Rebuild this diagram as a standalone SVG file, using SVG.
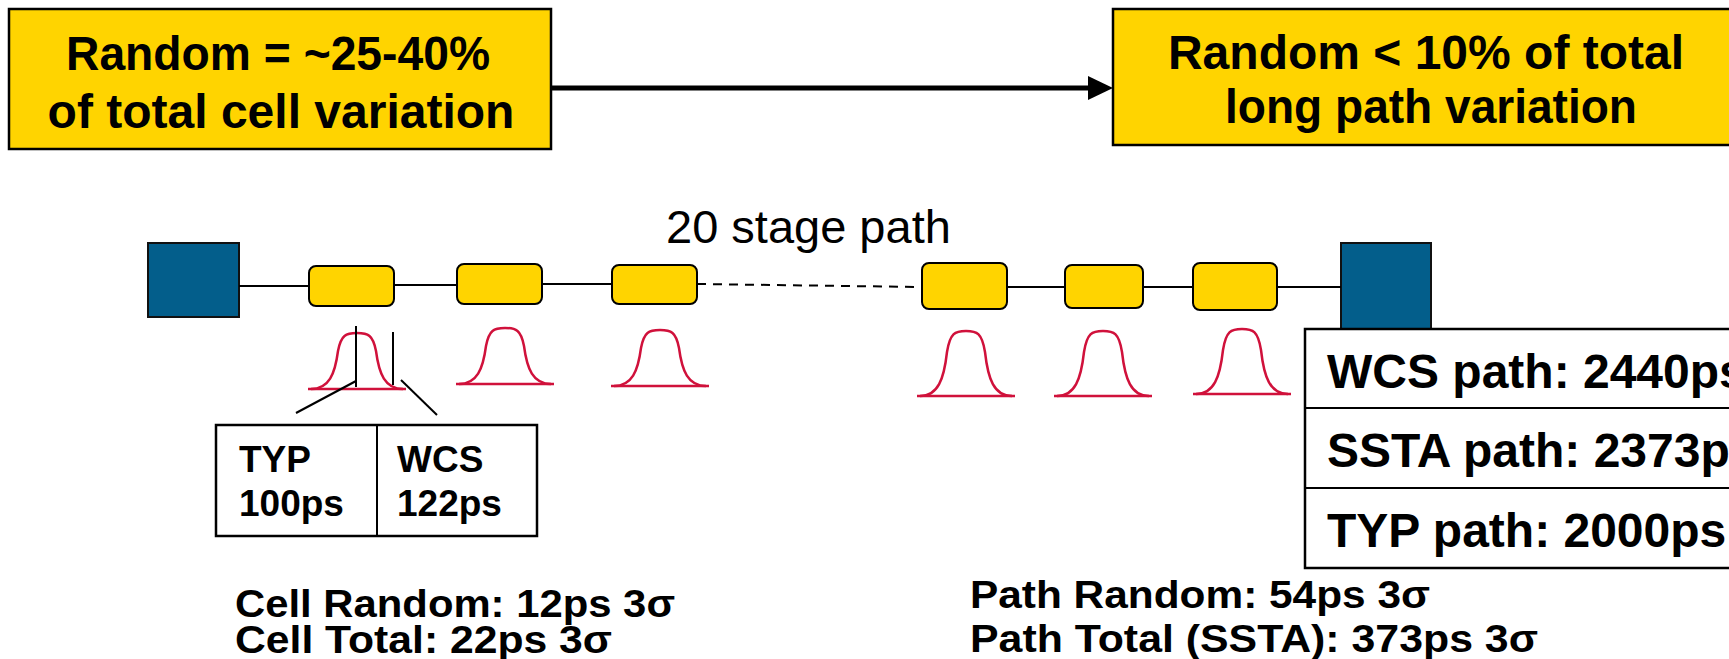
<svg xmlns="http://www.w3.org/2000/svg" width="1729" height="659" viewBox="0 0 1729 659">
<style>
.bg{fill:#ffffff}
.ybox{fill:#FFD400;stroke:#000;stroke-width:2.5}
.cell{fill:#FFD400;stroke:#000;stroke-width:2}
.reg{fill:#035E8B;stroke:#111;stroke-width:2}
.wire{stroke:#000;stroke-width:2;fill:none}
.dash{stroke:#000;stroke-width:2;fill:none;stroke-dasharray:9 7}
.bell{stroke:#D0113B;stroke-width:2.5;fill:none}
.tick{stroke:#000;stroke-width:2;fill:none}
.tbl{fill:#fff;stroke:#000;stroke-width:2.5}
.big{font-family:"Liberation Sans",Arial,sans-serif;font-weight:bold;font-size:48px;fill:#000}
.mid{font-family:"Liberation Sans",Arial,sans-serif;font-weight:bold;font-size:38px;fill:#000}
.sm{font-family:"Liberation Sans",Arial,sans-serif;font-weight:bold;font-size:37px;fill:#000}
.lbl{font-family:"Liberation Sans",Arial,sans-serif;font-size:47px;fill:#000}
</style>
<rect class="bg" x="0" y="0" width="1729" height="659"/>

<g id="box-random-cell">
<rect class="ybox" x="9" y="9" width="542" height="140"/>
<text class="big" x="278" y="70" text-anchor="middle" textLength="424" lengthAdjust="spacingAndGlyphs">Random = ~25-40%</text>
<text class="big" x="281" y="128" text-anchor="middle">of total cell variation</text>
</g>

<g id="box-random-path">
<rect class="ybox" x="1113" y="9" width="640" height="136"/>
<text class="big" x="1426" y="69" text-anchor="middle">Random &lt; 10% of total</text>
<text class="big" x="1431" y="123" text-anchor="middle" textLength="412" lengthAdjust="spacingAndGlyphs">long path variation</text>
</g>

<g id="label-stage">
<text class="lbl" x="666" y="243">20 stage path</text>
</g>

<g id="reg-in"><rect class="reg" x="148" y="243" width="91" height="74"/></g>
<g id="reg-out"><rect class="reg" x="1341" y="243" width="90" height="86"/></g>

<g id="cell1"><rect class="cell" x="309" y="266" width="85" height="40" rx="7"/></g>
<g id="cell2"><rect class="cell" x="457" y="264" width="85" height="40" rx="7"/></g>
<g id="cell3"><rect class="cell" x="612" y="265" width="85" height="39" rx="7"/></g>
<g id="cell4"><rect class="cell" x="922" y="263" width="85" height="46" rx="7"/></g>
<g id="cell5"><rect class="cell" x="1065" y="265" width="78" height="43" rx="7"/></g>
<g id="cell6"><rect class="cell" x="1193" y="263" width="84" height="47" rx="7"/></g>

<g id="connectors">
<line class="wire" x1="239" y1="286" x2="309" y2="286"/>
<line class="wire" x1="394" y1="285" x2="457" y2="285"/>
<line class="wire" x1="542" y1="284" x2="612" y2="284"/>
<line class="dash" x1="697" y1="284" x2="922" y2="287"/>
<line class="wire" x1="1007" y1="287" x2="1065" y2="287"/>
<line class="wire" x1="1143" y1="287" x2="1193" y2="287"/>
<line class="wire" x1="1277" y1="287" x2="1341" y2="287"/>
<line x1="551" y1="88" x2="1090" y2="88" stroke="#000" stroke-width="5"/>
<polygon points="1088,76 1113,88 1088,100" fill="#000"/>
</g>

<g id="bell1">
<path class="bell" d="M311,389 c18,0 24,-15 27,-38 c3,-16 8,-18 19,-18 c11,0 16,2 19,18 c3,23 9,38 27,38"/>
<line class="bell" x1="308" y1="389" x2="406" y2="389"/>
<line class="tick" x1="356" y1="326" x2="356" y2="387"/>
<line class="tick" x1="393" y1="332" x2="393" y2="385"/>
<line class="tick" x1="356" y1="381" x2="296" y2="413"/>
<line class="tick" x1="401" y1="380" x2="437" y2="415"/>
</g>
<g id="bell2">
<path class="bell" d="M459,384 c18,0 24,-15 27,-38 c3,-16 8,-18 19,-18 c11,0 16,2 19,18 c3,23 9,38 27,38"/>
<line class="bell" x1="456" y1="384" x2="554" y2="384"/>
</g>
<g id="bell3">
<path class="bell" d="M614,386 c18,0 24,-15 27,-38 c3,-16 8,-18 19,-18 c11,0 16,2 19,18 c3,23 9,38 27,38"/>
<line class="bell" x1="611" y1="386" x2="709" y2="386"/>
</g>
<g id="bell4">
<path class="bell" d="M920,396 c18,0 24,-17 27,-44 c3,-19 8,-21 19,-21 c11,0 16,2 19,21 c3,27 9,44 27,44"/>
<line class="bell" x1="917" y1="396" x2="1015" y2="396"/>
</g>
<g id="bell5">
<path class="bell" d="M1057,396 c18,0 24,-17 27,-44 c3,-19 8,-21 19,-21 c11,0 16,2 19,21 c3,27 9,44 27,44"/>
<line class="bell" x1="1054" y1="396" x2="1152" y2="396"/>
</g>
<g id="bell6">
<path class="bell" d="M1196,394 c18,0 24,-17 27,-44 c3,-19 8,-21 19,-21 c11,0 16,2 19,21 c3,27 9,44 27,44"/>
<line class="bell" x1="1193" y1="394" x2="1291" y2="394"/>
</g>

<g id="cell-table">
<rect class="tbl" x="216" y="425" width="321" height="111" stroke-width="2"/>
<line class="tick" x1="377" y1="425" x2="377" y2="536"/>
<text class="sm" x="239" y="472">TYP</text>
<text class="sm" x="239" y="516">100ps</text>
<text class="sm" x="397" y="472">WCS</text>
<text class="sm" x="397" y="516">122ps</text>
</g>

<g id="path-table">
<rect class="tbl" x="1305" y="329" width="460" height="239"/>
<line class="tick" x1="1305" y1="408" x2="1765" y2="408" stroke-width="2.5"/>
<line class="tick" x1="1305" y1="488" x2="1765" y2="488" stroke-width="2.5"/>
<text class="big" x="1327" y="388">WCS path: 2440ps</text>
<text class="big" x="1327" y="467">SSTA path: 2373ps</text>
<text class="big" x="1327" y="547">TYP path: 2000ps</text>
</g>

<g id="cell-stats">
<text class="mid" x="235" y="617" textLength="440" lengthAdjust="spacingAndGlyphs">Cell Random: 12ps 3σ</text>
<text class="mid" x="235" y="653" textLength="377" lengthAdjust="spacingAndGlyphs">Cell Total: 22ps 3σ</text>
</g>

<g id="path-stats">
<text class="mid" x="970" y="608" textLength="460" lengthAdjust="spacingAndGlyphs">Path Random: 54ps 3σ</text>
<text class="mid" x="970" y="652" textLength="568" lengthAdjust="spacingAndGlyphs">Path Total (SSTA): 373ps 3σ</text>
</g>
</svg>
